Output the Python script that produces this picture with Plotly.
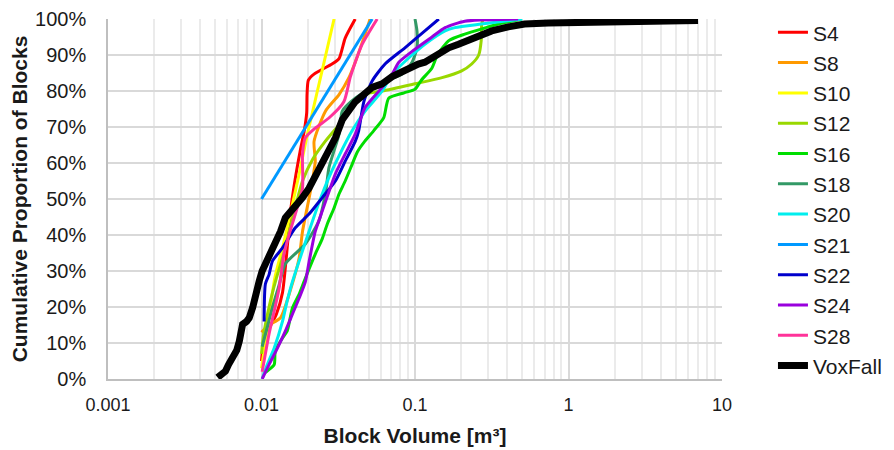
import plotly.graph_objects as go

# ---------------- data ----------------
series_names = ["S4", "S8", "S10", "S12", "S16", "S18", "S20", "S21", "S22", "S24", "S28", "VoxFall"]

S4_vol = [0.0100, 0.0103, 0.0112, 0.0125, 0.0137, 0.0146, 0.0154, 0.0165, 0.0178, 0.0190, 0.0197, 0.0198, 0.0202, 0.0220, 0.0288, 0.0320, 0.0351, 0.0408]
S4_pct = [5, 10, 14, 18, 24, 35, 46, 55, 63, 69, 74, 79, 83, 84.7, 87.5, 89, 94.7, 100]

S8_vol = [0.0100, 0.0112, 0.0133, 0.0155, 0.0176, 0.0185, 0.0208, 0.0224, 0.0220, 0.0261, 0.0320, 0.0371, 0.0408, 0.0473, 0.0510]
S8_pct = [13, 15, 17, 25, 33.7, 41, 52, 60.5, 66, 74.4, 79, 83.7, 88, 95.8, 100]

S10_vol = [0.0100, 0.0110, 0.0122, 0.0140, 0.0176, 0.0199, 0.0297]
S10_pct = [3, 15, 28, 38, 57, 68, 100]

S12_vol = [0.0100, 0.0103, 0.0112, 0.0125, 0.0140, 0.0160, 0.0185, 0.0215, 0.0260, 0.0336, 0.0400, 0.0453, 0.0611, 0.1000, 0.150, 0.200, 0.234, 0.260, 0.270, 0.272, 0.278]
S12_pct = [7, 12, 20, 28, 35, 45, 55, 61, 66, 71.7, 76, 79, 80, 82, 83.7, 85.5, 87.5, 90, 94, 98.6, 100]

S16_vol = [0.0103, 0.0109, 0.0121, 0.0123, 0.0137, 0.0147, 0.0159, 0.0176, 0.0193, 0.0224, 0.0249, 0.0268, 0.0297, 0.0320, 0.0351, 0.0390, 0.0420, 0.0470, 0.0539, 0.0626, 0.0674, 0.085, 0.100, 0.110, 0.129, 0.140, 0.166, 0.211, 0.285, 0.350, 0.496]
S16_pct = [1.5, 2.2, 4, 7.8, 11.4, 13.3, 19.7, 23.6, 28, 34.7, 39, 43, 47.5, 51.4, 55, 59.7, 63, 66, 69, 72.6, 78, 79.5, 80.5, 83, 86.4, 90, 94, 95.8, 97.5, 98.6, 100]

S18_vol = [0.0101, 0.0110, 0.0118, 0.0130, 0.0143, 0.0193, 0.0237, 0.0262, 0.0275, 0.0320, 0.0336, 0.0408, 0.0580, 0.0824, 0.0957, 0.103, 0.103, 0.100]
S18_pct = [9, 15, 20, 26, 32, 37.5, 44, 52, 58.7, 68, 74.4, 78, 82, 84.7, 88, 92, 96.7, 100]

S20_vol = [0.0101, 0.0109, 0.0121, 0.0137, 0.0147, 0.0159, 0.0185, 0.0204, 0.0237, 0.0275, 0.0320, 0.0390, 0.0473, 0.0611, 0.0710, 0.0957, 0.116, 0.157, 0.182, 0.270, 0.500]
S20_pct = [0, 4, 8.6, 16, 21.7, 27, 35.6, 41, 49, 56, 62, 69, 74.4, 80, 84.7, 90, 93, 96.7, 97.6, 98.6, 100]

S21_vol = [0.0100, 0.0526]
S21_pct = [50, 100]

S22_vol = [0.0104, 0.0106, 0.0112, 0.0118, 0.0137, 0.0166, 0.0204, 0.0249, 0.0303, 0.0351, 0.0408, 0.0430, 0.0464, 0.0526, 0.0638, 0.086, 0.116, 0.143]
S22_pct = [16, 26.4, 29, 32.8, 36.4, 42, 45.8, 50.4, 55, 60.5, 66, 69, 77, 82.8, 87.5, 92, 96.7, 100]

S24_vol = [0.0101, 0.0112, 0.0127, 0.0143, 0.0159, 0.0176, 0.0193, 0.0204, 0.0224, 0.0249, 0.0275, 0.0303, 0.0351, 0.0408, 0.0473, 0.0611, 0.0710, 0.0785, 0.0957, 0.129, 0.157, 0.211, 0.470]
S24_pct = [0, 4, 8.6, 13.3, 18, 22.5, 27, 32.5, 41, 46.7, 52, 57, 62.5, 68, 75.4, 81, 84.7, 88, 91, 95, 97.6, 99.4, 100]

S28_vol = [0.0101, 0.0106, 0.0112, 0.0130, 0.0140, 0.0151, 0.0166, 0.0185, 0.0185, 0.0193, 0.0224, 0.0275, 0.0344, 0.0378, 0.0408, 0.0453, 0.0567]
S28_pct = [2, 7, 12.5, 25, 34.7, 40, 45.8, 53, 62.5, 67, 69.7, 72.5, 77, 83.7, 88, 93, 100]

VoxFall_vol = [0.00518, 0.00540, 0.00583, 0.0061, 0.00648, 0.0069, 0.00717, 0.0074, 0.00753, 0.0080, 0.00832, 0.00875, 0.0090, 0.00914, 0.00966, 0.0101, 0.0106, 0.0118, 0.0123, 0.0133, 0.0143, 0.0160, 0.0176, 0.0185, 0.0204, 0.0224, 0.0261, 0.0303, 0.0336, 0.0408, 0.0526, 0.0611, 0.0710, 0.0785, 0.105, 0.116, 0.150, 0.166, 0.192, 0.245, 0.316, 0.405, 0.517, 0.738, 1.99, 6.58, 6.98]
VoxFall_pct = [0.4, 1, 2.2, 4, 6, 8, 10.5, 13, 15.2, 16, 17, 19.8, 22, 24.4, 27.2, 30, 32, 35.6, 37.5, 41, 44.8, 47, 49.4, 50.4, 53, 56.5, 62, 67, 72, 77, 81, 82, 84, 85, 87.5, 88, 91, 92, 93, 95, 96.7, 97.8, 98.6, 98.9, 99.1, 99.3, 99.6]

x_tick_vals = [0.001, 0.01, 0.1, 1, 10]
x_tick_text = ["0.001", "0.01", "0.1", "1", "10"]
y_tick_vals = [0, 10, 20, 30, 40, 50, 60, 70, 80, 90, 100]
y_tick_text = ["0%", "10%", "20%", "30%", "40%", "50%", "60%", "70%", "80%", "90%", "100%"]

# ---------------- styling ----------------
vols = [S4_vol, S8_vol, S10_vol, S12_vol, S16_vol, S18_vol, S20_vol, S21_vol, S22_vol, S24_vol, S28_vol, VoxFall_vol]
pcts = [S4_pct, S8_pct, S10_pct, S12_pct, S16_pct, S18_pct, S20_pct, S21_pct, S22_pct, S24_pct, S28_pct, VoxFall_pct]
colors = ["#FF0000", "#FF9900", "#FFFF00", "#99D800", "#00DD00", "#339966",
          "#00EEEE", "#0099FF", "#0000CC", "#9900DD", "#FF3399", "#000000"]

FONT = "Liberation Sans, Arial, sans-serif"
TXT = "#1a1a1a"

fig = go.Figure()
for i, name in enumerate(series_names):
    is_vox = name == "VoxFall"
    fig.add_trace(go.Scatter(
        x=vols[i], y=pcts[i], mode="lines", name=name,
        line=dict(color=colors[i], width=7 if is_vox else 3,
                  shape="linear" if is_vox else "spline",
                  smoothing=0.6),
    ))

fig.update_layout(
    width=894, height=450,
    margin=dict(l=100, r=180, t=11, b=79, autoexpand=False),
    paper_bgcolor="white", plot_bgcolor="white",
    font=dict(family=FONT, size=18, color=TXT),
    showlegend=True,
    legend=dict(x=1.0830, xanchor="left", y=1.019, yanchor="top",
                font=dict(family=FONT, size=21, color=TXT),
                maxheight=440,
                bgcolor="rgba(0,0,0,0)"),
    xaxis=dict(
        type="log", range=[-3, 1], automargin=False,
        tickvals=x_tick_vals, ticktext=x_tick_text,
        tickfont=dict(family=FONT, size=18, color=TXT),
        ticklabelstandoff=8,
        showgrid=True, gridcolor="#D9D9D9", gridwidth=1.5,
        minor=dict(showgrid=True, gridcolor="#EBEBEB", gridwidth=1.5, dtick="D1"),
        showline=True, linecolor="#BFBFBF", linewidth=2,
        ticks="", zeroline=False,
        title=dict(text="<b>Block Volume [m³]</b>", font=dict(family=FONT, size=21, color=TXT), standoff=15),
    ),
    yaxis=dict(
        range=[0, 100], automargin=False,
        tickvals=y_tick_vals, ticktext=y_tick_text,
        tickfont=dict(family=FONT, size=20, color=TXT),
        ticklabelstandoff=16,
        showgrid=True, gridcolor="#D9D9D9", gridwidth=1.5,
        showline=True, linecolor="#BFBFBF", linewidth=1.5,
        ticks="", zeroline=False,
        title=dict(text="<b>Cumulative Proportion of Blocks</b>", font=dict(family=FONT, size=21, color=TXT), standoff=6),
    ),
)

fig.write_html("out.html")
